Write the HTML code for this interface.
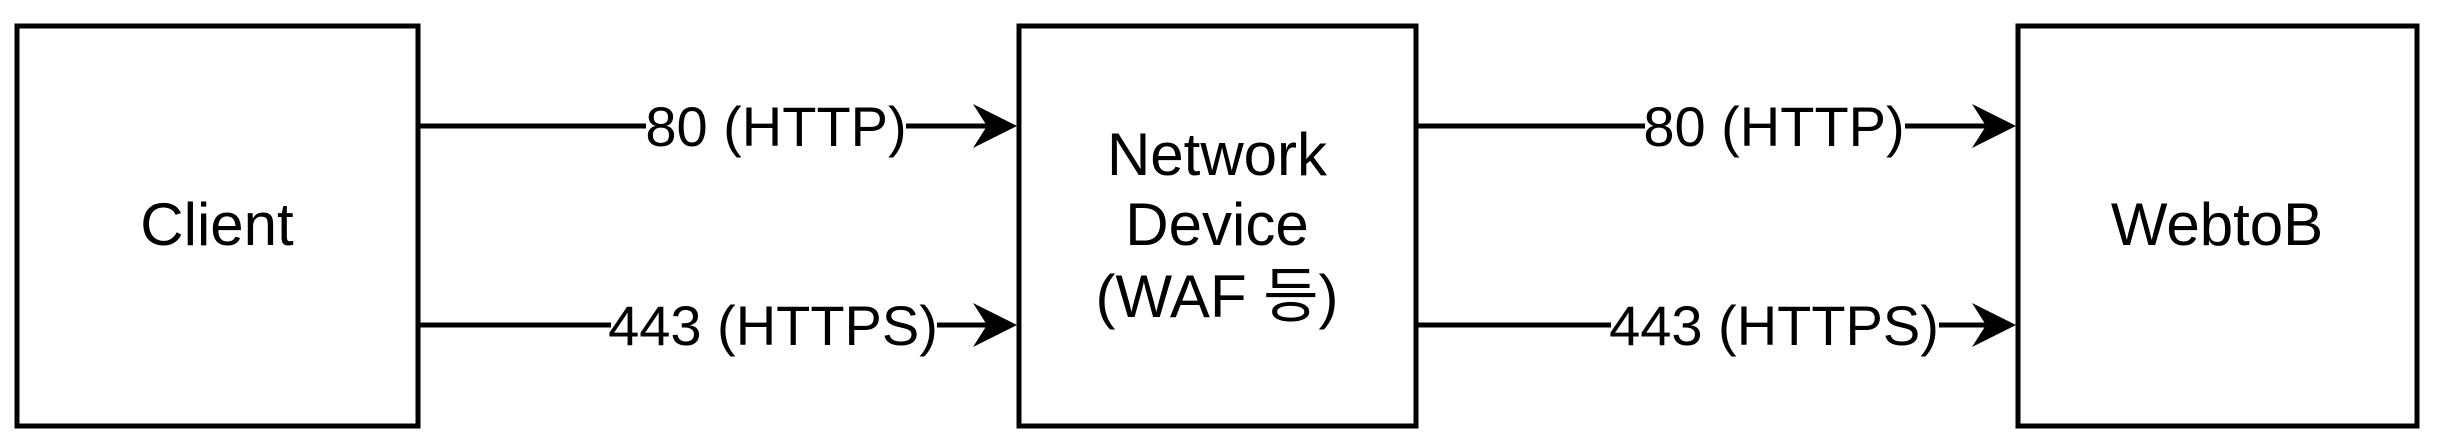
<!DOCTYPE html>
<html><head><meta charset="utf-8"><style>
html,body{margin:0;padding:0;background:#fff;}
svg{display:block;}
text{font-family:"Liberation Sans","Noto Sans CJK KR",sans-serif;font-size:56px;fill:#000;}
.n{font-size:60px;}
</style></head><body>
<svg width="2445" height="447" viewBox="0 0 2445 447" xmlns="http://www.w3.org/2000/svg">
<rect x="17" y="26" width="401" height="400" fill="#fff" stroke="#000" stroke-width="5"/>
<rect x="1019" y="26" width="397" height="400" fill="#fff" stroke="#000" stroke-width="5"/>
<rect x="2018" y="26" width="399" height="400" fill="#fff" stroke="#000" stroke-width="5"/>
<g stroke="#000" stroke-width="5">
<line x1="420" y1="126" x2="1000" y2="126"/>
<line x1="420" y1="325" x2="1000" y2="325"/>
<line x1="1418" y1="126" x2="2000" y2="126"/>
<line x1="1418" y1="325" x2="2000" y2="325"/>
</g>
<g fill="#000">
<polygon points="1017,126 973,104 987,126 973,148"/>
<polygon points="1017,325 973,303 987,325 973,347"/>
<polygon points="2016,126 1972,104 1986,126 1972,148"/>
<polygon points="2016,325 1972,303 1986,325 1972,347"/>
</g>
<g fill="#fff">
<rect x="646" y="95" width="260" height="64"/>
<rect x="611" y="294" width="326" height="64"/>
<rect x="1645" y="95" width="260" height="64"/>
<rect x="1611" y="294" width="328" height="64"/>
</g>
<g text-anchor="middle">
<text x="776" y="146">80 (HTTP)</text>
<text x="773" y="345">443 (HTTPS)</text>
<text x="1774" y="146">80 (HTTP)</text>
<text x="1774" y="345">443 (HTTPS)</text>
<text class="n" x="217" y="245">Client</text>
<text class="n" x="2217" y="245">WebtoB</text>
<text class="n" x="1217" y="175">Network</text>
<text class="n" x="1217" y="245">Device</text>
<text class="n" x="1217" y="317">(WAF 등)</text>
</g>
</svg>
</body></html>
